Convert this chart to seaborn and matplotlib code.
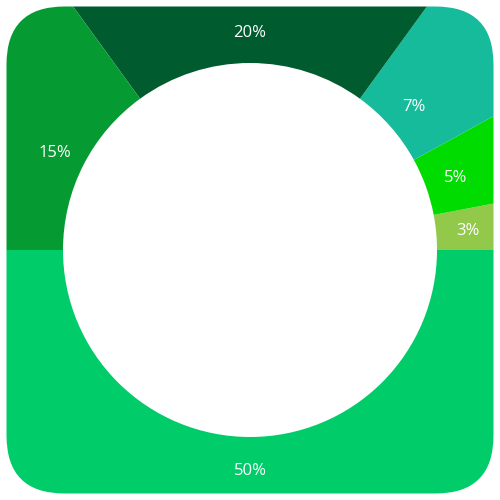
import matplotlib
matplotlib.use("Agg")
import matplotlib.pyplot as plt
from matplotlib.patches import FancyBboxPatch
import seaborn as sns

labels = ["3%", "5%", "7%", "20%", "15%", "50%"]
values = [3, 5, 7, 20, 15, 50]
colors = ["#92C94B", "#00DC00", "#15BB9A", "#005B2F", "#069A33", "#00CC6A"]

sns.set_theme(style="white")
plt.rcParams['font.family'] = ['Open Sans', 'DejaVu Sans']

fig = plt.figure(figsize=(5, 5), dpi=100)
fig.patch.set_facecolor("white")
ax = fig.add_axes([0, 0, 1, 1])

outer = 380
inner = 187
wedges, texts = ax.pie(values, colors=colors, radius=outer, startangle=0,
                       counterclock=True,
                       wedgeprops=dict(width=outer - inner, linewidth=0),
                       labels=labels, labeldistance=219 / outer,
                       textprops=dict(color="white", fontsize=12, ha="center", va="center"))
for t in texts:
    t.set_ha("center")
    t.set_va("center")
    x, y = t.get_position()
    t.set_position((x, y - 2))

ax.set_xlim(-250, 250)
ax.set_ylim(-250, 250)
ax.set_aspect("equal")
ax.axis("off")

clip = FancyBboxPatch((-243.5 + 58, -243.5 + 58), 487 - 116, 487 - 116,
                      boxstyle="round,pad=58", transform=ax.transData,
                      facecolor="none", edgecolor="none")
ax.add_patch(clip)
for w in wedges:
    w.set_clip_on(True)
    w.set_clip_path(clip)

fig.savefig("out.png", dpi=100, facecolor="white")
